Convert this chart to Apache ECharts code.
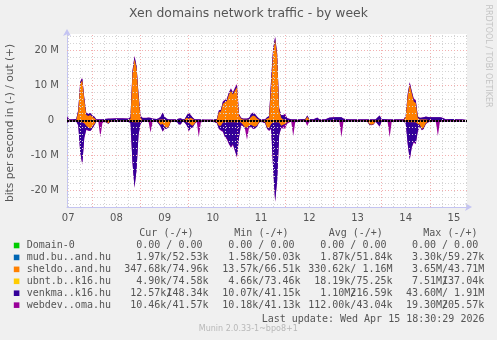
<!DOCTYPE html>
<html><head><meta charset="utf-8">
<script src="https://cdn.jsdelivr.net/npm/echarts@6/dist/echarts.min.js"></script>
<style>html,body{margin:0;padding:0;background:#f0f0f0}#c{width:497px;height:340px}</style>
</head><body><div id="c"></div>
<script>
// ---- data (x in hours since Apr 07 00:00, values in Mbit/s; "in" stored as magnitudes) ----
const hours = [11.5,12.5,14,16,17,18,19,20,21,22,
 23,24,25,26,27,28,29,30,32,33,
 36,39,42,43,44,45,46,47,48,49,
 51,52,53,54,56,57,58,59,60,61,
 62,63,66,67,68,69,70,71,72,73,
 74,75,76,77,78,80,84,86,87,88,
 89,90,91,92,93,94,95,96,97,98,
 99,100,101,102,103,104,105,106,107,108,
 110,111,112,113,114,115,116,117,118,119,
 120,121,123,124,125,127,130,131,132,134,
 136,137,140,142,145,147,148,149,151,155,
 159,161,162,163,164,165,167,168,171,172,
 173,176,179,180,181,182,183,184,185,186,
 187,188,189,190,192,194,195,196,197,198,
 200,203,206,210.5];
const sheldoOut = [.2,.1,.1,.1,2.5,10.5,11.5,6.0,1.6,1.3,
 1.6,1.0,.7,.1,.1,.1,.1,.1,.1,.1,
 .1,.1,.1,.5,13.5,17.5,15.0,7.0,.8,.1,
 .1,.1,.1,.1,.1,.2,.3,.3,.2,.1,
 .1,.1,.1,.1,.1,.1,.2,.8,.5,.8,
 .4,.1,.1,.1,.1,.1,.1,.2,2.4,2.6,
 4.8,5.2,5.6,7.4,8.4,7.4,8.6,9.5,1.4,.6,
 .3,.2,.2,.3,1.0,1.4,1.2,.6,.2,.1,
 .1,.6,.8,10.0,19.5,23.0,18.5,3.0,.8,.3,
 .2,.1,.1,.1,.1,.1,.2,1.1,.2,.1,
 .1,.1,.1,.1,.1,.1,.1,.1,.1,.1,
 .1,.1,.1,.1,.1,.1,.2,.1,.1,.1,
 .1,.1,.1,1.0,7.0,10.2,7.8,5.4,5.0,.8,
 .3,.3,.3,.3,.1,.1,.1,.1,.1,.1,
 .1,.1,.1,.1];
const sheldoIn = [.1,.1,.1,.1,.3,.5,.5,.8,1.5,2.0,
 2.3,1.8,1.0,.2,.1,.1,.1,.1,.8,.2,
 .1,.1,.1,.2,.4,.5,.5,.5,.3,.1,
 .1,.1,.1,.1,.1,.6,1.2,1.0,1.8,2.2,
 1.8,.3,.1,.1,.1,.1,.3,.5,.5,1.2,
 1.5,.8,.1,.1,.1,.1,.1,.5,1.5,1.5,
 .6,.5,.5,.5,.5,.5,.5,.5,.4,.6,
 1.2,2.0,2.0,1.5,1.2,1.6,1.8,1.4,.5,.2,
 .4,2.0,2.3,1.0,.5,.5,.5,.6,1.5,1.2,
 1.0,.5,.1,.1,.1,.1,.1,.2,.1,.1,
 .1,.1,.1,.1,.1,.1,.1,.1,.1,.1,
 .1,.3,1.1,1.2,1.0,.2,.3,.1,.1,.1,
 .1,.1,.1,.3,.4,.5,.5,.5,.5,1.0,
 1.2,2.4,2.0,.8,.1,.1,.1,.1,.1,.1,
 .1,.1,.1,.1];
const venkmaOut = [.8,.2,.2,.3,.4,.4,.5,.4,.5,.6,
 .5,.4,.4,.2,.2,.2,.2,.3,.4,.4,
 .5,.5,.4,.4,.5,.6,.5,.4,.5,.6,
 .6,.7,.6,.4,.3,.4,.7,1.9,.8,.4,
 .2,.2,.2,.4,.5,.2,.2,.6,1.7,.7,
 .4,.2,.2,.2,.2,.1,.1,.2,.4,.4,
 .5,.5,.5,.5,.5,.5,.5,.6,.4,.2,
 .2,.3,.3,.4,.8,.8,.6,.5,.3,.2,
 .2,.3,.4,1.6,.8,.6,.5,.5,.7,1.2,
 1.3,.5,.2,.2,.2,.2,.2,.3,.2,.2,
 .7,.2,.2,.7,.8,.8,.8,.4,.2,.2,
 .2,.2,.2,.2,.2,.2,1.2,.3,.2,.2,
 .2,.2,.2,.3,.4,.5,.4,.6,.6,.4,
 .4,.5,.6,.8,.8,.8,.8,.8,.8,.7,
 .2,.3,.2,.2];
const venkmaIn = [.5,.1,.1,.1,1.0,8.5,11.8,4.0,1.0,.8,
 .6,.5,.3,.1,.1,.1,.1,.1,.1,.1,
 .1,.1,.2,.5,11.5,18.5,13.5,3.5,.6,.1,
 .1,.1,.1,.1,.1,.3,.5,2.0,.5,.1,
 .1,.1,.1,1.0,1.0,.1,.3,.8,2.4,.9,
 .4,.1,.1,.1,.1,.1,.1,.2,.8,1.2,
 2.4,4.0,4.6,6.0,7.0,6.2,8.0,9.8,4.4,.7,
 .3,.3,.3,.3,.5,.7,.4,.3,.1,.1,
 .3,.3,.5,1.2,13.0,22.5,16.5,3.5,.5,.3,
 .3,.1,.1,.1,.1,.1,.1,.2,.1,.1,
 .1,.1,.1,.1,.1,.1,.1,.1,.1,.1,
 .1,.1,.1,.1,.1,.1,1.3,.2,.1,.1,
 .1,.1,.1,.5,6.2,10.5,7.0,5.5,6.0,2.0,
 .4,.3,.3,.1,.1,.1,.1,.1,.1,.1,
 .1,.1,.1,.1];
const webdevOut = [.2,.05,.05,.05,.1,.3,.3,.2,.05,.05,
 .05,.05,.05,.05,.05,.05,.05,.05,.05,.05,
 .05,.05,.05,.1,.3,.4,.3,.1,.05,.05,
 .05,.05,.05,.05,.05,.05,.05,.05,.05,.05,
 .05,.05,.05,.05,.05,.05,.05,.05,.05,.05,
 .05,.05,.05,.05,.05,.05,.05,.05,.1,.1,
 .2,.2,.2,.2,.3,.2,.3,.3,.1,.05,
 .05,.05,.05,.05,.05,.05,.05,.05,.05,.05,
 .05,.05,.1,.3,.4,.4,.3,.1,.05,.1,
 .4,.1,.05,.05,.05,.05,.05,.05,.05,.05,
 .05,.05,.05,.05,.05,.05,.05,.05,.05,.05,
 .05,.05,.05,.05,.05,.05,.05,.05,.05,.05,
 .05,.05,.05,.1,.3,.3,.3,.3,.3,.1,
 .05,.05,.05,.05,.05,.05,.05,.05,.05,.05,
 .05,.05,.05,.05];
const webdevIn = [.2,.05,.05,.05,.1,.2,.3,.3,.2,.1,
 .1,.1,.05,.05,.2,4.6,.6,.05,.05,.05,
 .05,.05,.05,.1,.2,.3,.3,.2,.1,.05,
 .05,.2,3.2,.3,.05,.05,.1,.2,.1,.05,
 .05,.05,.05,.05,.05,.05,.05,.1,.2,.1,
 .05,.05,.2,4.6,.4,.05,.05,.05,.1,.2,
 .3,.3,.3,.3,.3,.3,.3,.3,.3,.1,
 .1,.2,3.2,.3,.1,.1,.1,.1,.05,.05,
 .05,.1,.2,.2,.3,.3,.3,.2,.2,.8,
 1.0,.3,.1,4.2,.3,.05,.1,1.2,.1,.05,
 .05,.05,.05,.05,.1,.2,4.6,.2,.05,.05,
 .05,.05,.05,.05,.05,.05,.2,.05,.2,4.6,
 .2,.05,.05,.1,.3,.3,.3,.3,.3,.2,
 .1,.1,.1,.1,.05,.05,.2,4.2,.2,.05,
 .05,.05,.05,.05];
// near-zero domains
const quietHours = [11.5, 210.5];
const domain0Out = [0, 0], domain0In = [0, 0];
const mudOut = [0.05, 0.05], mudIn = [0.002, 0.002];
const ubntOut = [0.075, 0.075], ubntIn = [0.005, 0.005];

const dayLabels = ['07','08','09','10','11','12','13','14','15'];
const dayLabelHours = [12,36,60,84,108,132,156,180,204];
const yTickValues = [-20,-10,0,10,20];

const legendNames = ['Domain-0','mud.bu..and.hu','sheldo..and.hu','ubnt.b..k16.hu','venkma..k16.hu','webdev..oma.hu'];
const legendColors = ['#00cc00','#0066b3','#ff8000','#ffcc00','#330099','#990099'];
const curIn  = ['0.00 ','1.97k','347.68k','4.90k','12.57k','10.46k'];
const curOut = ['0.00 ','52.53k','74.96k','74.58k','148.34k','41.57k'];
const minIn  = ['0.00 ','1.58k','13.57k','4.66k','10.07k','10.18k'];
const minOut = ['0.00 ','50.03k','66.51k','73.46k','41.15k','41.13k'];
const avgIn  = ['0.00 ','1.87k','330.62k','18.19k','1.10M','112.00k'];
const avgOut = ['0.00 ','51.84k','1.16M','75.25k','216.59k','43.04k'];
const maxIn  = ['0.00 ','3.30k','3.65M','7.51M','43.60M','19.30M'];
const maxOut = ['0.00 ','59.27k','43.71M','137.04k','1.91M','205.57k'];
const headers = ['Cur (-/+)','Min (-/+)','Avg (-/+)','Max (-/+)'];

// ---- build ----
const M = 1e6;
// stacked totals (sheldo, then venkma, then webdev on top), computed from the arrays above
const cum = (arrs) => arrs[0].map((_, i) => arrs.reduce((s, a) => s + a[i], 0));
const outStack = [[sheldoOut], [sheldoOut, venkmaOut], [sheldoOut, venkmaOut, webdevOut]].map(cum);
const inStack  = [[sheldoIn],  [sheldoIn, venkmaIn],   [sheldoIn, venkmaIn, webdevIn]].map(cum);
const pairs = (xs, vs, sign) => xs.map((x, i) => [x, sign * vs[i] * M]);
function area(name, color, xs, vals, sign) {
  return {type:'line', name, data: pairs(xs, vals, sign), symbol:'none', showSymbol:false,
    lineStyle:{width:0}, areaStyle:{color, opacity:1}, itemStyle:{color}, z:2, silent:true};
}
const series = [];
// outermost layers first so inner layers paint over them
series.push(area('webdev out','#990099',hours,outStack[2],1));
series.push(area('venkma out','#330099',hours,outStack[1],1));
series.push(area('sheldo out','#ff8000',hours,outStack[0],1));
series.push(area('webdev in','#990099',hours,inStack[2],-1));
series.push(area('venkma in','#330099',hours,inStack[1],-1));
series.push(area('sheldo in','#ff8000',hours,inStack[0],-1));
series.push(area('ubnt out','#ffcc00',quietHours,ubntOut,1));
series.push(area('ubnt in','#ffcc00',quietHours,ubntIn,-1));
series.push(area('mud out','#0066b3',quietHours,mudOut,1));
series.push(area('mud in','#0066b3',quietHours,mudIn,-1));
series.push(area('Domain-0 out','#00cc00',quietHours,domain0Out,1));
series.push(area('Domain-0 in','#00cc00',quietHours,domain0In,-1));

const GRAY = '#d4d4d4', RED = '#f2b0b0';
const gridLines = [];
for (let h = 12; h <= 210; h += 6) gridLines.push({xAxis:h, lineStyle:{color: h % 24 === 0 ? RED : GRAY, type:[1,2], width:1}});
for (let m = -24; m <= 24; m += 2) gridLines.push({yAxis:m*M, lineStyle:{color: m % 10 === 0 ? RED : GRAY, type:[1,2], width:1}});
series.unshift({type:'line', name:'grid', data:[[11.5,0]], symbol:'none', lineStyle:{width:0}, z:1, silent:true,
  markLine:{silent:true, symbol:'none', label:{show:false}, animation:false, data:gridLines}});
series.push({type:'line', name:'zero', data:[[11.5,0]], symbol:'none', lineStyle:{width:0}, z:5, silent:true,
  markLine:{silent:true, symbol:'none', label:{show:false}, animation:false,
    data:[{yAxis:0, lineStyle:{color:'#000', width:2, type:[2,1]}}]}});

const FONT = 'DejaVu Sans', MONO = 'DejaVu Sans Mono';
const TXT = '#555';
const g = [];
function txt(text, x, y, opt) {
  opt = opt || {};
  const align = opt.align || 'left';
  g.push({type:'text', x, y, rotation: opt.rotation || 0, silent:true,
    style:{text, fill: opt.fill || TXT, font: opt.font || ('10px ' + MONO),
      textAlign: align, align: align, textVerticalAlign:'middle', verticalAlign:'middle'}});
}
txt('Xen domains network traffic - by week', 248.5, 13.5, {align:'center', font:'12.4px ' + FONT, fill:'#555'});
txt('bits per second in (-) / out (+)', 10.5, 123, {align:'center', font:'10.6px ' + FONT, rotation: Math.PI/2, fill:'#555'});
txt('RRDTOOL / TOBI OETIKER', 488.5, 56, {align:'center', font:'8px ' + FONT, rotation: -Math.PI/2, fill:'#c4c4c4'});
const headerX = [139.3, 234.3, 328.7, 423.3];
headers.forEach((h, i) => txt(h, headerX[i], 233.3));
const colEnds = [208.5, 300.5, 392.5, 484.2];
const CW = 6.02;
const cols = [[curIn,curOut],[minIn,minOut],[avgIn,avgOut],[maxIn,maxOut]];
legendNames.forEach((name, r) => {
  const y = 245.6 + r * 11.93;
  g.push({type:'rect', silent:true, shape:{x:13.8, y:y-2.9, width:5.6, height:5.6}, style:{fill: legendColors[r]}});
  txt(name, 26.7, y);
  cols.forEach((c, k) => {
    txt(c[0][r] + '/', colEnds[k] - 6 * CW, y, {align:'right'});
    txt(c[1][r].padStart(6, ' '), colEnds[k], y, {align:'right'});
  });
});
txt('Last update: Wed Apr 15 18:30:29 2026', 261.7, 319.5);
txt('Munin 2.0.33-1~bpo8+1', 248.3, 329.3, {align:'center', font:'8px ' + FONT, fill:'#b8b8b8'});

const AXIS = '#c4c4f2';
const option = {
  animation:false,
  backgroundColor:'#f0f0f0',
  textStyle:{fontFamily:FONT},
  grid:{left:67, top:34, width:400, height:173, show:true, backgroundColor:'#ffffff', borderWidth:0, containLabel:false, outerBoundsMode:'none'},
  xAxis:{type:'value', min:11.4, max:210.5,
    axisLine:{show:true, onZero:false, lineStyle:{color:AXIS, width:1}, symbol:['none','arrow'], symbolSize:[6,7], symbolOffset:[0,5]},
    axisTick:{show:false}, splitLine:{show:false},
    axisLabel:{customValues:dayLabelHours, margin:6, color:'#555', fontSize:10, fontFamily:FONT, hideOverlap:false,
      formatter:v => { const i = dayLabelHours.indexOf(v); return i >= 0 ? dayLabels[i] : ''; }}},
  yAxis:{type:'value', min:-24.7*M, max:24.7*M,
    axisLine:{show:true, onZero:false, lineStyle:{color:AXIS, width:1}, symbol:['none','arrow'], symbolSize:[6,7], symbolOffset:[0,5]},
    axisTick:{show:false}, splitLine:{show:false},
    axisLabel:{customValues:yTickValues.map(v => v*M), margin:8, color:'#555', fontSize:10, fontFamily:FONT,
      formatter:v => v === 0 ? '{z|0}' : (v/M) + ' M', rich:{z:{padding:[0,5,0,0], fontSize:10, color:'#555', fontFamily:FONT}}}},
  series,
  graphic:{elements:g}
};
const chart = echarts.init(document.getElementById('c'), null, {renderer:'canvas', width:497, height:340});
chart.setOption(option);
</script></body></html>
